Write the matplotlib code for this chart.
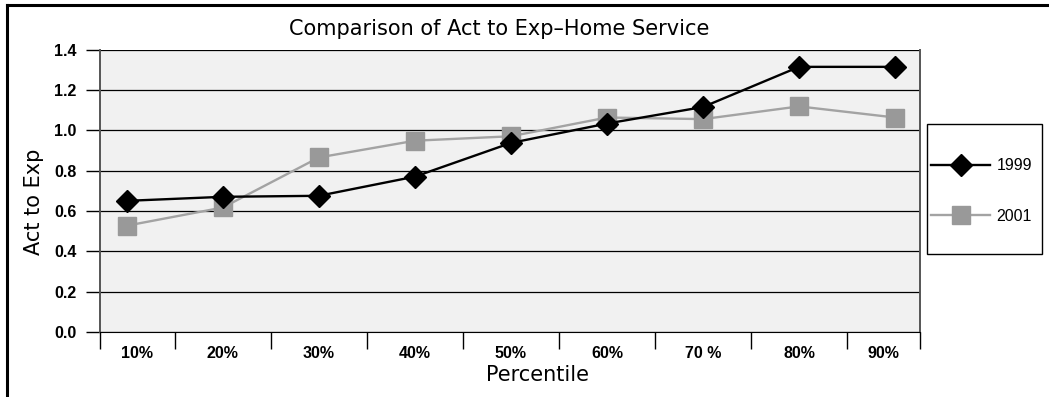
import matplotlib.pyplot as plt
from matplotlib.lines import Line2D
from matplotlib.patches import Rectangle

plt.rcParams['font.family'] = ['Liberation Sans', 'DejaVu Sans']

# percentile categories and actual-to-expected ratios
percentiles = ['10%', '20%', '30%', '40%', '50%', '60%', '70 %', '80%', '90%']
act_exp_1999 = [0.65, 0.67, 0.675, 0.77, 0.937, 1.033, 1.115, 1.314, 1.314]
act_exp_2001 = [0.527, 0.617, 0.865, 0.948, 0.97, 1.063, 1.055, 1.118, 1.063]

W, H = 1049, 397
fig = plt.figure(figsize=(W / 100, H / 100), dpi=100)
ax = fig.add_axes([100 / W, 1 - 332 / H, 820 / W, 282.5 / H])
ax.set_facecolor('#f1f1f1')

x = list(range(len(percentiles)))
ax.plot(x, act_exp_1999, color='black', lw=1.7, marker='D', ms=11.5,
        mec='black', mfc='black', zorder=4)
ax.plot(x, act_exp_2001, color='#a3a3a3', lw=1.7, marker='s', ms=13,
        mec='#999999', mfc='#999999', zorder=3)

# the plot area clips half of the outer categories
x_lo, x_hi = -0.28, 8.26
ax.set_xlim(x_lo, x_hi)
ax.set_ylim(0, 1.4)

ax.set_yticks([0, 0.2, 0.4, 0.6, 0.8, 1.0, 1.2, 1.4])
ax.set_yticklabels(['0.0', '0.2', '0.4', '0.6', '0.8', '1.0', '1.2', '1.4'],
                   fontweight='bold', fontsize=11.5)
ax.yaxis.grid(True, color='black', lw=0.9)
ax.set_axisbelow(True)
ax.tick_params(axis='y', length=10, width=1, pad=7)

bounds = [x_lo] + [i + 0.5 for i in range(len(percentiles) - 1)] + [x_hi]
ax.set_xticks(bounds)
ax.set_xticklabels([])
ax.tick_params(axis='x', which='major', length=12, width=1)
centers = [(bounds[i] + bounds[i + 1]) / 2 for i in range(len(percentiles))]
ax.set_xticks(centers, minor=True)
ax.set_xticklabels(percentiles, minor=True, fontweight='bold', fontsize=11.5)
ax.tick_params(axis='x', which='minor', length=0, pad=10)

ax.spines['top'].set_visible(False)
ax.spines['left'].set_color('#555555')
ax.spines['left'].set_linewidth(1.4)
ax.spines['right'].set_color('#555555')
ax.spines['right'].set_linewidth(1.4)
ax.spines['bottom'].set_color('black')

label_font = ['DejaVu Sans']
fig.text(499 / W, 1 - 29 / H, 'Comparison of Act to Exp\u2013Home Service',
         ha='center', va='center', fontsize=15, family=label_font)
fig.text(34 / W, 1 - 202 / H, 'Act to Exp', rotation=90,
         ha='center', va='center', fontsize=15, family=label_font)
fig.text(538 / W, 1 - 375 / H, 'Percentile',
         ha='center', va='center', fontsize=15, family=label_font)

# legend box drawn separately so the entries can sit close to its left edge
fig.add_artist(Rectangle((927 / W, 1 - 254 / H), 115 / W, 130 / H,
                         transform=fig.transFigure, fill=False,
                         edgecolor='black', lw=1))
handles = [
    Line2D([], [], color='black', lw=1.7, marker='D', ms=11.5, mfc='black', mec='black'),
    Line2D([], [], color='#a3a3a3', lw=1.7, marker='s', ms=13, mfc='#999999', mec='#999999'),
]
fig.legend(handles, ['1999', '2001'], loc='center left',
           bbox_to_anchor=(931 / W, 1 - 191 / H),
           bbox_transform=fig.transFigure, fontsize=11.5,
           frameon=False, handlelength=3.7, labelspacing=2.2,
           borderpad=0, handletextpad=0.4, borderaxespad=0)

# outer frame, cut off on the right and bottom
fig.add_artist(Line2D([7 / W, 1], [1 - 5 / H, 1 - 5 / H],
                      color='black', lw=2.2, transform=fig.transFigure))
fig.add_artist(Line2D([7 / W, 7 / W], [0, 1 - 5 / H],
                      color='black', lw=2.2, transform=fig.transFigure))

fig.savefig('out.png', dpi=100)
